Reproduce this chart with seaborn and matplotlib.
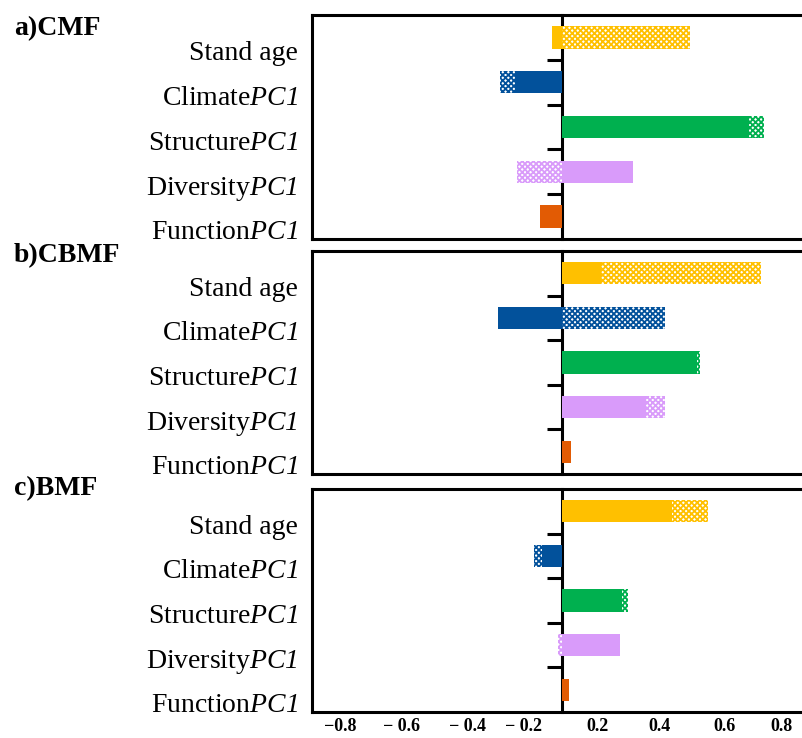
import numpy as np
import pandas as pd
import seaborn as sns
import matplotlib.pyplot as plt
from matplotlib.transforms import ScaledTranslation

# variables (top to bottom) and their colours
variables = ['Stand age', 'Climate', 'Structure', 'Diversity', 'Function']
var_labels = ['Stand age', 'Climate$\\mathsf{PC1}$', 'Structure$\\mathsf{PC1}$',
              'Diversity$\\mathsf{PC1}$', 'Function$\\mathsf{PC1}$']
colors = ['#FFC000', '#02519B', '#00B04F', '#D99BFA', '#E25B04']

panel_titles = ['a)CMF', 'b)CBMF', 'c)BMF']

# direct (solid) and indirect (checkered) effects
cmf_direct = [-0.033, -0.154, 0.613, 0.233, -0.072]
cmf_indirect = [0.42, -0.049, 0.049, -0.148, 0.0]
cbmf_direct = [0.128, -0.21, 0.443, 0.275, 0.03]
cbmf_indirect = [0.524, 0.338, 0.01, 0.063, 0.0]
bmf_direct = [0.36, -0.066, 0.197, 0.19, 0.022]
bmf_indirect = [0.118, -0.026, 0.02, -0.015, 0.0]

# x tick labels as printed on the original
xtick_pos = [-0.728, -0.528, -0.311, -0.125, 0.115, 0.318, 0.531, 0.721]
xtick_labels = ['\u22120.8', '\u2212 0.6', '\u2212 0.4', '\u2212 0.2', '0.2', '0.4', '0.6', '0.8']

sns.set_style('white')
plt.rcParams['font.family'] = ['Liberation Serif', 'DejaVu Serif']
plt.rcParams['mathtext.fontset'] = 'custom'
plt.rcParams['mathtext.rm'] = 'Liberation Serif'
# sf slot used for the italic "PC1" (digits stay italic this way)
plt.rcParams['mathtext.sf'] = 'Liberation Serif:italic'
plt.rcParams['hatch.linewidth'] = 1.3
plt.rcParams['text.color'] = 'black'
plt.rcParams['xtick.color'] = 'black'
plt.rcParams['ytick.color'] = 'black'

LW = 2.2


def draw_panel(ax, direct, indirect, show_x):
    df = pd.DataFrame({'var': variables, 'direct': direct, 'indirect': indirect})
    same = np.sign(df['direct']) == np.sign(df['indirect'])
    # checkered bar stacks on the solid one when the signs agree
    df['hatched'] = np.where(same, df['direct'] + df['indirect'], df['indirect'])

    sns.barplot(df, x='hatched', y='var', hue='var', palette=colors, orient='h',
                width=0.5, saturation=1, legend=False, linewidth=0, ax=ax)
    for p, c in zip(ax.patches, colors):
        p.set_facecolor('white')
        p.set_edgecolor(c)
        p.set_hatch('xxxxxx')
    sns.barplot(df, x='direct', y='var', hue='var', palette=colors, orient='h',
                width=0.5, saturation=1, legend=False, linewidth=0, ax=ax)

    ax.set_xlim(-0.82, 0.79)
    ax.set_ylim(4.5, -0.5)
    ax.set_xlabel('')
    ax.set_ylabel('')
    ax.set_yticks(range(len(variables)))
    ax.set_yticklabels(var_labels, fontsize=20, color='black')
    ax.tick_params(axis='y', length=0, pad=10)
    off = ScaledTranslation(0, -0.13, ax.figure.dpi_scale_trans)
    for lab in ax.get_yticklabels():
        lab.set_transform(lab.get_transform() + off)

    if show_x:
        ax.set_xticks(xtick_pos)
        ax.set_xticklabels(xtick_labels, fontsize=13, fontweight='bold', color='black')
        ax.tick_params(axis='x', length=0, pad=4)
    else:
        ax.set_xticks([])

    for s in ['top', 'left', 'bottom']:
        ax.spines[s].set_linewidth(LW)
        ax.spines[s].set_color('black')
    ax.spines['right'].set_visible(False)

    # zero line with the short ticks between the rows
    sec = ax.secondary_yaxis(0, transform=ax.transData)
    sec.set_yticks([0.5, 1.5, 2.5, 3.5])
    sec.set_yticklabels([])
    sec.tick_params(axis='y', length=11, width=LW, color='black')
    sec.spines['left'].set_linewidth(LW)
    sec.spines['left'].set_color('black')


fig = plt.figure(figsize=(8.03, 7.38), dpi=100)
left = 312 / 803
boxes = [(15, 239), (251, 474), (489, 712)]
data = [(cmf_direct, cmf_indirect), (cbmf_direct, cbmf_indirect), (bmf_direct, bmf_indirect)]
title_y = [29, 256, 489]

for i, ((top, bot), (d, ind)) in enumerate(zip(boxes, data)):
    ax = fig.add_axes([left, 1 - bot / 738, 1 - left, (bot - top) / 738])
    draw_panel(ax, d, ind, show_x=(i == 2))
    fig.text(14 / 803, 1 - title_y[i] / 738, panel_titles[i], fontsize=20,
             fontweight='bold', va='center', ha='left', color='black')

fig.savefig('out.png', dpi=100)
